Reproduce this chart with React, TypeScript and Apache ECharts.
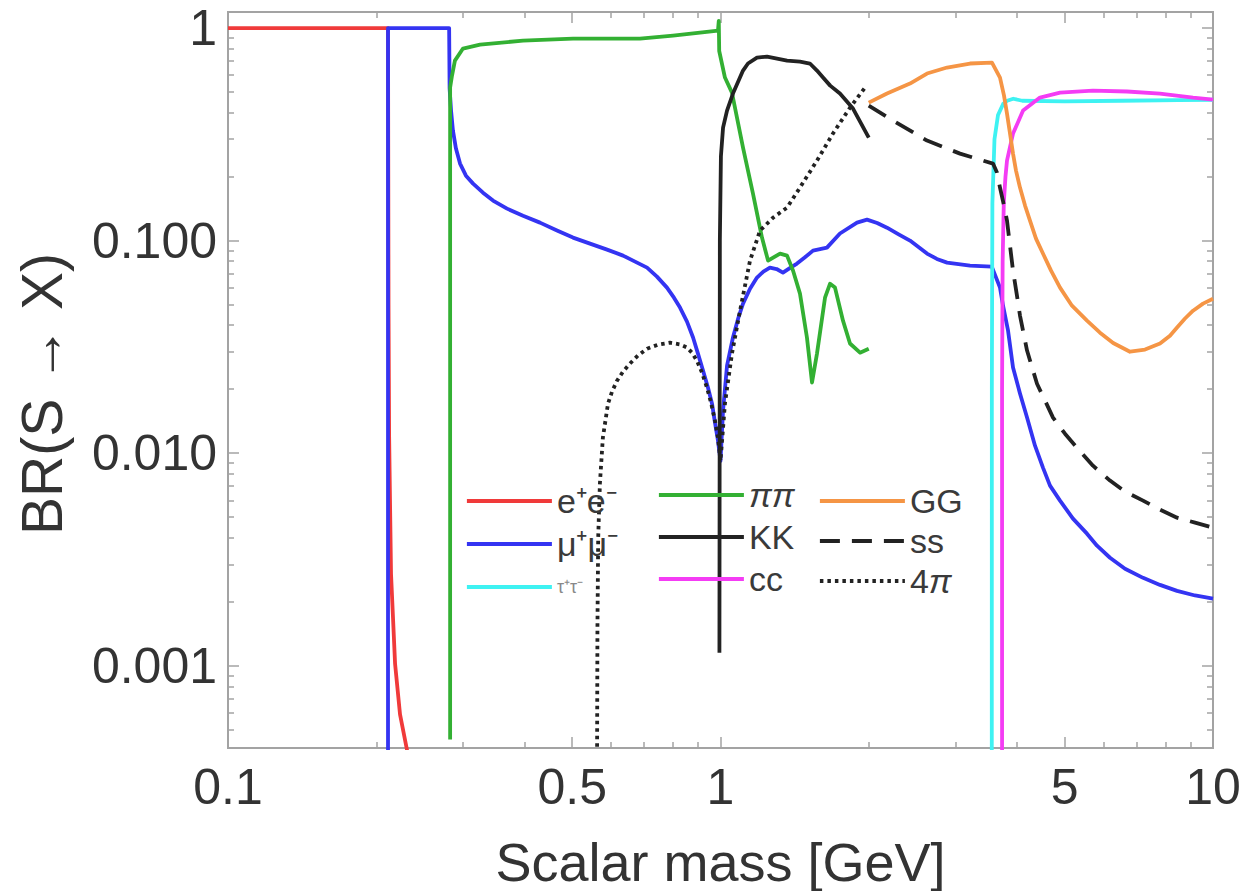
import React, { useEffect, useRef } from "react";
import * as echarts from "echarts";

// ---- axis ticks / labels ----
const X_MIN = 0.1;
const X_MAX = 10;
const Y_MIN = 0.00041;
const Y_MAX = 1.19;
const X_MAJOR = [0.1, 0.5, 1, 5, 10];
const X_MAJOR_LABELS = ["0.1", "0.5", "1", "5", "10"];
const X_MINOR = [0.2, 0.3, 0.4, 0.6, 0.7, 0.8, 0.9, 2, 3, 4, 6, 7, 8, 9];
const Y_MAJOR = [0.001, 0.01, 0.1, 1];
const Y_MAJOR_LABELS = ["0.001", "0.010", "0.100", "1"];
const Y_MINOR = [
  0.0005, 0.0006, 0.0007, 0.0008, 0.0009,
  0.002, 0.003, 0.004, 0.005, 0.006, 0.007, 0.008, 0.009,
  0.02, 0.03, 0.04, 0.05, 0.06, 0.07, 0.08, 0.09,
  0.2, 0.3, 0.4, 0.5, 0.6, 0.7, 0.8, 0.9,
];

// ---- series data: [scalar mass (GeV), BR] ----
const eeData = [
  [0.1, 1], [0.2113, 1], [0.2115, 0.3], [0.2118, 0.05], [0.2124, 0.012],
  [0.2135, 0.005], [0.2143, 0.0027], [0.2184, 0.00102], [0.2235, 0.00059],
  [0.231, 0.0004], [0.235, 0.00033],
];
const mumuData = [
  [0.2113, 0.0003], [0.2113, 1], [0.2812, 1], [0.2818, 0.52], [0.2837, 0.41],
  [0.2862, 0.33], [0.2903, 0.271], [0.2959, 0.2304], [0.3042, 0.202],
  [0.3145, 0.1854], [0.3294, 0.168], [0.3452, 0.1543], [0.3686, 0.1414],
  [0.3972, 0.131], [0.43, 0.1215], [0.4656, 0.1115], [0.5017, 0.1033],
  [0.5433, 0.0968], [0.5884, 0.0907], [0.634, 0.085], [0.6707, 0.0796],
  [0.7094, 0.0746], [0.743, 0.0677], [0.7786, 0.0601], [0.8045, 0.0539],
  [0.8275, 0.0484], [0.855, 0.0416], [0.8796, 0.035], [0.9, 0.0294],
  [0.9215, 0.0245], [0.9433, 0.0203], [0.9611, 0.0171], [0.9746, 0.0139],
  [0.9883, 0.01145], [1.0, 0.0092], [1.012, 0.0159], [1.031, 0.0258],
  [1.06, 0.035], [1.086, 0.043], [1.111, 0.0505], [1.148, 0.0594],
  [1.186, 0.067], [1.222, 0.0715], [1.26, 0.0746], [1.3, 0.0735],
  [1.339, 0.0707], [1.38, 0.074], [1.43, 0.078], [1.48, 0.083],
  [1.541, 0.0897], [1.645, 0.0927], [1.748, 0.108], [1.893, 0.1215],
  [1.984, 0.1255], [2.08, 0.121], [2.178, 0.115], [2.3, 0.107],
  [2.425, 0.1], [2.626, 0.0869], [2.75, 0.082], [2.884, 0.0788],
  [3.211, 0.0763], [3.555, 0.0754], [3.694, 0.0601], [3.747, 0.0494],
  [3.836, 0.0377], [3.926, 0.0253], [4.056, 0.0191], [4.192, 0.0147],
  [4.351, 0.01084], [4.516, 0.00855], [4.667, 0.00703], [4.891, 0.00598],
  [5.196, 0.00492], [5.548, 0.00418], [5.814, 0.00367], [6.178, 0.00322],
  [6.627, 0.00286], [7.211, 0.00259], [7.805, 0.0024], [8.453, 0.00225],
  [9.195, 0.00214], [10, 0.00207],
];
const tautauData = [
  [3.555, 0.0003], [3.556, 0.02], [3.565, 0.15], [3.6, 0.3], [3.66, 0.39],
  [3.75, 0.44], [3.82, 0.455], [3.93, 0.465], [4.1, 0.455], [5.0, 0.452],
  [6.5, 0.455], [8.5, 0.458], [10, 0.46],
];
const pipiData = [
  [0.2825, 0.00045], [0.2825, 0.525], [0.285, 0.598], [0.2889, 0.703],
  [0.3, 0.801], [0.3249, 0.836], [0.3972, 0.873], [0.5017, 0.892],
  [0.6863, 0.892], [0.801, 0.922], [0.9087, 0.952], [0.9883, 0.973],
  [0.992, 1.08], [0.994, 0.78], [1.021, 0.585], [1.055, 0.497],
  [1.111, 0.274], [1.164, 0.1664], [1.214, 0.1033], [1.249, 0.0805],
  [1.321, 0.0869], [1.365, 0.085], [1.404, 0.0722], [1.45, 0.0563],
  [1.498, 0.035], [1.534, 0.0215], [1.57, 0.0294], [1.63, 0.0539],
  [1.669, 0.0627], [1.708, 0.0601], [1.773, 0.042], [1.832, 0.0328],
  [1.92, 0.0297], [2.0, 0.031],
];
const kkData = [
  [0.995, 0.00115], [0.997, 0.1], [1.002, 0.25], [1.012, 0.34],
  [1.031, 0.409], [1.06, 0.492], [1.111, 0.631], [1.137, 0.681],
  [1.186, 0.726], [1.243, 0.734], [1.365, 0.703], [1.45, 0.695],
  [1.519, 0.681], [1.57, 0.631], [1.615, 0.585], [1.67, 0.536],
  [1.748, 0.492], [1.858, 0.418], [2.0, 0.305],
];
const ccData = [
  [3.73, 0.0003], [3.73, 0.02], [3.74, 0.08], [3.76, 0.15], [3.79, 0.2],
  [3.817, 0.238], [3.926, 0.319], [4.115, 0.409], [4.453, 0.471],
  [4.891, 0.497], [5.705, 0.508], [6.69, 0.503], [7.805, 0.492],
  [9.11, 0.471], [10, 0.461],
];
const ggData = [
  [2.0, 0.446], [2.178, 0.492], [2.425, 0.548], [2.626, 0.611],
  [2.884, 0.652], [3.211, 0.681], [3.558, 0.688], [3.694, 0.585],
  [3.764, 0.481], [3.817, 0.396], [3.871, 0.319], [3.926, 0.2566],
  [3.981, 0.2135], [4.056, 0.1776], [4.153, 0.1462], [4.25, 0.1242],
  [4.371, 0.1022], [4.516, 0.0869], [4.69, 0.0722], [4.891, 0.0601],
  [5.172, 0.0494], [5.548, 0.042], [5.896, 0.0369], [6.27, 0.033],
  [6.784, 0.030], [7.277, 0.0307], [7.805, 0.0328], [8.178, 0.0357],
  [8.453, 0.039], [8.774, 0.043], [9.11, 0.0468], [9.544, 0.0505],
  [10, 0.0533],
];
const ssData = [
  [2.0, 0.432], [2.24, 0.367], [2.626, 0.2955], [3.064, 0.2566],
  [3.575, 0.2304], [3.642, 0.209], [3.694, 0.1776], [3.764, 0.1462],
  [3.817, 0.1242], [3.871, 0.0947], [3.926, 0.0722], [3.999, 0.0551],
  [4.056, 0.0444], [4.192, 0.0304], [4.392, 0.0212], [4.56, 0.01766],
  [4.733, 0.0147], [5.006, 0.01235], [5.296, 0.0106], [5.705, 0.00873],
  [6.178, 0.00743], [6.627, 0.00659], [7.211, 0.00598], [7.805, 0.00542],
  [8.453, 0.00497], [9.195, 0.00471], [10, 0.00446],
];
const fourPiData = [
  [0.5614, 0.0003], [0.5625, 0.0015], [0.5645, 0.004], [0.569, 0.00718],
  [0.577, 0.01183], [0.591, 0.0171], [0.6022, 0.01948], [0.6164, 0.0219],
  [0.634, 0.0242], [0.655, 0.0264], [0.68, 0.0288], [0.7094, 0.031],
  [0.7467, 0.0324], [0.7897, 0.0331], [0.8275, 0.0325], [0.855, 0.0314],
  [0.875, 0.0297], [0.896, 0.0272], [0.9172, 0.0239], [0.9389, 0.0203],
  [0.9565, 0.0173], [0.9746, 0.0142], [0.9883, 0.0118], [1.0, 0.0092],
  [1.021, 0.0171], [1.055, 0.0294], [1.0956, 0.0468], [1.148, 0.0805],
  [1.203, 0.1115], [1.279, 0.1283], [1.365, 0.143], [1.45, 0.1776],
  [1.57, 0.238], [1.692, 0.319], [1.832, 0.422], [1.966, 0.525],
];

const FONT = "'Liberation Sans', Arial, Helvetica, sans-serif";
const TEXT = "#333333";
const FRAME = "#a3a3a3";
const LW = 3.8;

function matchLabel(v: number, ticks: number[], labels: string[]) {
  const i = ticks.findIndex((t) => Math.abs(t - v) / t < 1e-6);
  return i >= 0 ? labels[i] : "";
}

function xAxis(position: string, ticks: number[], len: number, main: boolean) {
  return {
    type: "log",
    logBase: 10,
    min: X_MIN,
    max: X_MAX,
    gridIndex: 0,
    position,
    offset: 0,
    axisLine: { show: false },
    splitLine: { show: false },
    minorTick: { show: false },
    axisTick: {
      show: true,
      inside: true,
      length: len,
      customValues: ticks,
      lineStyle: { color: FRAME, width: 1.5 },
    },
    axisLabel: main
      ? {
          show: true,
          customValues: X_MAJOR,
          margin: 14,
          fontSize: 50,
          fontFamily: FONT,
          color: TEXT,
          formatter: (v: number) => matchLabel(v, X_MAJOR, X_MAJOR_LABELS),
        }
      : { show: false },
    name: main ? "Scalar mass [GeV]" : "",
    nameLocation: "middle",
    nameGap: 87,
    nameTextStyle: { fontSize: 54, fontFamily: FONT, color: TEXT },
  };
}

function yAxis(position: string, ticks: number[], len: number, main: boolean) {
  return {
    type: "log",
    logBase: 10,
    min: Y_MIN,
    max: Y_MAX,
    gridIndex: 0,
    position,
    offset: 0,
    axisLine: { show: false },
    splitLine: { show: false },
    minorTick: { show: false },
    axisTick: {
      show: true,
      inside: true,
      length: len,
      customValues: ticks,
      lineStyle: { color: FRAME, width: 1.5 },
    },
    axisLabel: main
      ? {
          show: true,
          customValues: Y_MAJOR,
          margin: 11,
          fontSize: 50,
          fontFamily: FONT,
          color: TEXT,
          formatter: (v: number) => matchLabel(v, Y_MAJOR, Y_MAJOR_LABELS),
        }
      : { show: false },
    name: main ? "BR(S → X)" : "",
    nameLocation: "middle",
    nameGap: 158,
    nameRotate: 90,
    nameTextStyle: { fontSize: 57, fontFamily: FONT, color: TEXT, padding: [0, 28, 0, 0] },
  };
}

function line(name: string, data: number[][], color: string, type: any = "solid") {
  return {
    name,
    type: "line",
    data,
    xAxisIndex: 0,
    yAxisIndex: 0,
    showSymbol: false,
    symbol: "none",
    smooth: false,
    clip: true,
    lineStyle: { color, width: LW, type, join: "round", cap: "butt" },
    itemStyle: { color },
    emphasis: { disabled: true },
  };
}

function legend(names: any[], left: number, top: number, gap: number, formatter?: any) {
  return {
    data: names,
    orient: "vertical",
    left,
    top,
    padding: 0,
    itemWidth: 85,
    itemHeight: 36,
    itemGap: gap,
    selectedMode: false,
    itemStyle: { opacity: 0 },
    lineStyle: { width: LW },
    textStyle: {
      fontSize: 34,
      fontFamily: FONT,
      color: "#3a3a3a",
      lineHeight: 36,
      rich: { it: { fontSize: 34, fontFamily: FONT, color: "#3a3a3a", fontStyle: "italic" } },
    },
    formatter,
  };
}

export default function App() {
  const ref = useRef<HTMLDivElement>(null);
  useEffect(() => {
    if (!ref.current) return;
    const chart = echarts.init(ref.current, undefined, { renderer: "svg" });
    const option: any = {
      animation: false,
      backgroundColor: "#ffffff",
      grid: {
        left: 228,
        top: 12,
        right: 30,
        bottom: 143,
        show: true,
        borderColor: FRAME,
        borderWidth: 2,
        backgroundColor: "transparent",
        containLabel: false,
        outerBoundsMode: "none",
      },
      xAxis: [
        xAxis("bottom", X_MAJOR, 11, true),
        xAxis("bottom", X_MINOR, 6, false),
        xAxis("top", X_MAJOR, 11, false),
        xAxis("top", X_MINOR, 6, false),
      ],
      yAxis: [
        yAxis("left", Y_MAJOR, 11, true),
        yAxis("left", Y_MINOR, 6, false),
        yAxis("right", Y_MAJOR, 11, false),
        yAxis("right", Y_MINOR, 6, false),
      ],
      legend: [
        legend(["e⁺e⁻", "μ⁺μ⁻", { name: "τ⁺τ⁻", textStyle: { fontSize: 18, color: "#888888" } }], 465, 483, 7),
        legend(["ππ", "KK", "cc"], 657, 477, 6, (n: string) => (n === "ππ" ? "{it|ππ}" : n)),
        legend(["GG", "ss", "4π"], 818, 483, 4, (n: string) => (n === "4π" ? "4{it|π}" : n)),
      ],
      series: [
        line("e⁺e⁻", eeData, "#f03a3a"),
        line("μ⁺μ⁻", mumuData, "#3434f2"),
        line("τ⁺τ⁻", tautauData, "#3ef2f2"),
        line("ππ", pipiData, "#33b033"),
        line("KK", kkData, "#222222"),
        line("cc", ccData, "#f43cf4"),
        line("GG", ggData, "#f59545"),
        line("ss", ssData, "#222222", [20, 12]),
        line("4π", fourPiData, "#222222", [3.5, 4]),
      ],
    };
    chart.setOption(option);
    return () => chart.dispose();
  }, []);
  return (
    <div
      ref={ref}
      style={{ position: "absolute", left: 0, top: 0, width: 1243, height: 891, background: "#fff" }}
    />
  );
}
